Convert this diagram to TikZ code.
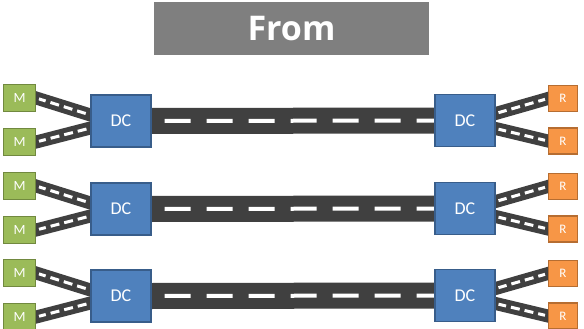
\documentclass[tikz,border=0pt]{standalone}
\usepackage{fontspec}
\setmainfont{Carlito}
\newfontfamily\titlefont{Open Sans}
\newfontfamily\boxfont{Carlito}
\usetikzlibrary{backgrounds}
\definecolor{roadc}{HTML}{404040}
\definecolor{dcfill}{HTML}{4F81BD}
\definecolor{dcline}{HTML}{385D8A}
\definecolor{mfill}{HTML}{9BBB59}
\definecolor{mline}{HTML}{71893F}
\definecolor{rfill}{HTML}{F79646}
\definecolor{rline}{HTML}{B66D31}
\definecolor{titlec}{HTML}{7F7F7F}
\tikzset{
  dcbox/.style={draw=dcline, fill=dcfill, line width=1.2pt, minimum width=60pt, minimum height=52pt, inner sep=0pt, text=white, font=\boxfont\fontsize{18}{18}\selectfont},
  mbox/.style={draw=mline, fill=mfill, line width=1.2pt, minimum width=32pt, minimum height=27pt, inner sep=0pt, text=white, font=\boxfont\fontsize{14}{14}\selectfont},
  rbox/.style={draw=rline, fill=rfill, line width=1.2pt, minimum width=29pt, minimum height=26pt, inner sep=0pt, text=white, font=\boxfont\fontsize{13}{13}\selectfont},
  sideroad/.style={roadc, line width=13pt, shorten <=-3pt, shorten >=-6pt,
    postaction={draw, white, line width=3pt, dash pattern=on 9pt off 5pt, dash phase=2pt, shorten <=3pt, shorten >=3pt}},
  mainroad/.style={roadc, line width=26pt, shorten <=-2pt, shorten >=-2pt,
    postaction={draw, white, line width=4pt, dash pattern=on 26pt off 16pt, dash phase=27pt}},
}
\begin{document}
\begin{tikzpicture}[x=1pt, y=-1pt]
\useasboundingbox (0,0) rectangle (584,329);
\node[fill=titlec, minimum width=275pt, minimum height=53pt, inner sep=0pt, text=white, font=\titlefont\bfseries\fontsize{34}{34}\selectfont] (title) at (291.5,28.5) {From};
\foreach \i/\y in {1/121, 2/209, 3/296} {
  \node[dcbox] (dcl\i) at (121,\y) {DC};
  \node[dcbox] (dcr\i) at (465,\y-0.5) {DC};
  \node[mbox] (ma\i) at (19.5,\y-23) {M};
  \node[mbox] (mb\i) at (19.5,\y+21) {M};
  \node[rbox] (ra\i) at (563,\y-22.5) {R};
  \node[rbox] (rb\i) at (563,\y+20) {R};
  \begin{scope}[on background layer]
    \draw[mainroad] (dcl\i.east) -- (dcr\i.west);
    \draw[sideroad] (ma\i.east) -- ([yshift=6pt]dcl\i.west);
    \draw[sideroad] (mb\i.east) -- ([yshift=-7pt]dcl\i.west);
    \draw[sideroad] (ra\i.west) -- ([yshift=7pt]dcr\i.east);
    \draw[sideroad] (rb\i.west) -- ([yshift=-8pt]dcr\i.east);
  \end{scope}
}
\end{tikzpicture}
\end{document}
